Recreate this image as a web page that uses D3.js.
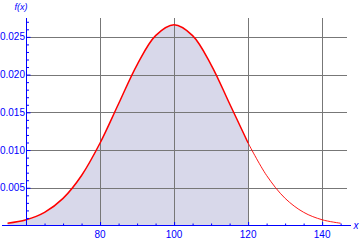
<!DOCTYPE html>
<html>
<head>
<meta charset="utf-8">
<script src="https://cdn.jsdelivr.net/npm/d3@7"></script>
<style>
  body { margin: 0; background: #fff; }
  svg { display: block; }
</style>
</head>
<body>
<div class="chart"></div>
<script>
// values
const xValues = [55, 60, 65, 70, 75, 80, 85, 90, 95, 100, 105, 110, 115, 120, 125, 130, 135, 140, 145];
const densityValues = [0.00030, 0.00076, 0.00175, 0.00360, 0.00663, 0.01093, 0.01613, 0.02130, 0.02516, 0.02660,
  0.02516, 0.02130, 0.01613, 0.01093, 0.00663, 0.00360, 0.00175, 0.00076, 0.00030];
const shadeLimit = 120;
const xTicks = [80, 100, 120, 140];
const xMinorTicks = [65, 70, 75, 85, 90, 95, 105, 110, 115, 125, 130, 135, 145];
const yTicks = [0.005, 0.010, 0.015, 0.020, 0.025];
const yMinorTicks = [0.001, 0.002, 0.003, 0.004, 0.006, 0.007, 0.008, 0.009, 0.011, 0.012, 0.013, 0.014,
  0.016, 0.017, 0.018, 0.019, 0.021, 0.022, 0.023, 0.024, 0.026, 0.027];

const width = 360;
const height = 241;
const axisX = 60; // where the vertical axis crosses

let points = xValues.map((x, i) => ({ x: x, y: densityValues[i] }));

let x = d3.scaleLinear().domain([53.5, 147.8]).range([2, 351]);
let y = d3.scaleLinear().domain([0, 0.0275]).range([225.5, 18]);

let svg = d3.select('.chart')
  .append('svg')
  .attr('width', width)
  .attr('height', height);

let gridColor = '#777777';
let axisColor = '#0000ff';
let font = '"Liberation Sans Narrow", "Liberation Sans", Arial, sans-serif';
let axisLeft = Math.round(x(axisX)) + 0.5;

// shaded area under the curve up to the limit
let left = points.filter(d => d.x <= shadeLimit);
let right = points.filter(d => d.x >= shadeLimit);

svg.append('path')
  .datum(left)
  .attr('d', d3.area().curve(d3.curveCatmullRom)
    .x(d => x(d.x)).y0(y(0)).y1(d => y(d.y)))
  .style('fill', 'rgb(216,216,234)')
  .style('stroke', 'none');

// grid
svg.selectAll('.vgrid')
  .data(xTicks)
  .enter()
  .append('line')
  .attr('class', 'vgrid')
  .attr('x1', d => Math.round(x(d)) + 0.5).attr('x2', d => Math.round(x(d)) + 0.5)
  .attr('y1', y(0.0275)).attr('y2', y(0))
  .style('stroke', gridColor)
  .style('stroke-width', 1);

svg.selectAll('.hgrid')
  .data(yTicks)
  .enter()
  .append('line')
  .attr('class', 'hgrid')
  .attr('x1', axisLeft).attr('x2', 347)
  .attr('y1', d => Math.round(y(d)) + 0.5).attr('y2', d => Math.round(y(d)) + 0.5)
  .style('stroke', gridColor)
  .style('stroke-width', 1);

// curve: thick over the shaded part, thin after it
svg.append('path')
  .datum(left)
  .attr('d', d3.line().curve(d3.curveCatmullRom).x(d => x(d.x)).y(d => y(d.y)))
  .style('fill', 'none')
  .style('stroke', '#ff0000')
  .style('stroke-width', 1.5);

svg.append('path')
  .datum(right)
  .attr('d', d3.line().curve(d3.curveCatmullRom).x(d => x(d.x)).y(d => y(d.y)))
  .style('fill', 'none')
  .style('stroke', '#ff0000')
  .style('stroke-width', 0.9);

// axes
let xAxis = d3.axisTop(x)
  .tickValues(xTicks)
  .tickSize(3.5)
  .tickFormat('');
let xMinor = d3.axisTop(x)
  .tickValues(xMinorTicks)
  .tickSize(2)
  .tickFormat('');

let gx = svg.append('g').attr('transform', `translate(0, ${y(0)})`);
gx.call(xAxis);
gx.append('g').call(xMinor);
gx.selectAll('path').attr('d', `M2,0H351`);

let yAxis = d3.axisRight(y)
  .tickValues(yTicks)
  .tickSize(4)
  .tickFormat('');
let yMinor = d3.axisRight(y)
  .tickValues(yMinorTicks)
  .tickSize(2.5)
  .tickFormat('');

let gy = svg.append('g').attr('transform', `translate(${axisLeft}, 0)`);
gy.call(yAxis);
gy.append('g').call(yMinor);
gy.selectAll('path').attr('d', `M0,18V${y(0)}`);

svg.selectAll('.domain, .tick line')
  .style('stroke', axisColor)
  .style('stroke-width', 1);

// tick labels
svg.selectAll('.xlabel')
  .data(xTicks)
  .enter()
  .append('text')
  .attr('class', 'xlabel')
  .attr('x', d => x(d))
  .attr('y', 238)
  .style('text-anchor', 'middle')
  .style('font-family', font)
  .style('font-size', '10px')
  .style('fill', axisColor)
  .text(d => d);

svg.selectAll('.ylabel')
  .data(yTicks)
  .enter()
  .append('text')
  .attr('class', 'ylabel')
  .attr('x', 25)
  .attr('y', d => y(d) + 3.5)
  .style('text-anchor', 'end')
  .style('font-family', font)
  .style('font-size', '10px')
  .style('fill', axisColor)
  .text(d => d3.format('.3f')(d));

// axis names
svg.append('text')
  .attr('x', 21)
  .attr('y', 10)
  .style('text-anchor', 'middle')
  .style('font-family', font)
  .style('font-style', 'italic')
  .style('font-size', '9px')
  .style('fill', axisColor)
  .text('f(x)');

svg.append('text')
  .attr('x', 356)
  .attr('y', 229)
  .style('text-anchor', 'middle')
  .style('font-family', font)
  .style('font-style', 'italic')
  .style('font-size', '10px')
  .style('fill', axisColor)
  .text('x');
</script>
</body>
</html>
